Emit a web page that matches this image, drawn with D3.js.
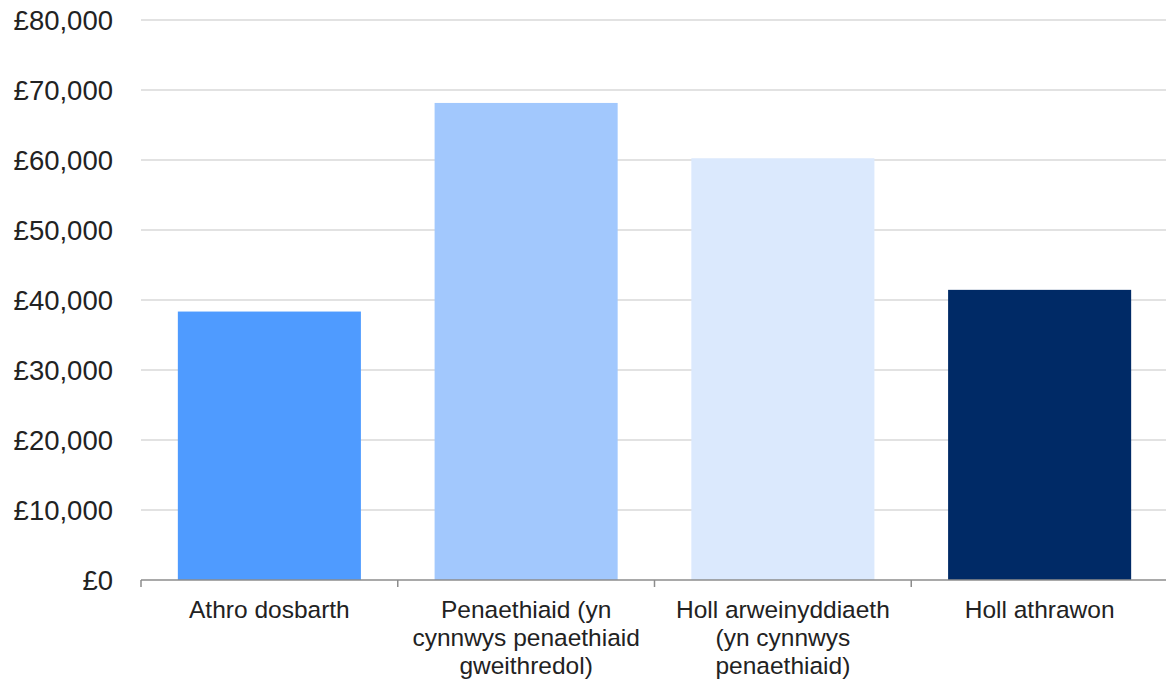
<!DOCTYPE html>
<html>
<head>
<meta charset="utf-8">
<script src="https://cdn.jsdelivr.net/npm/d3@7"></script>
<style>
  body { margin: 0; background: #fff; }
  text { font-family: "Liberation Sans", Arial, sans-serif; fill: #222; }
</style>
</head>
<body>
<script>
const categories = [
  'Athro dosbarth',
  'Penaethiaid (yn cynnwys penaethiaid gweithredol)',
  'Holl arweinyddiaeth (yn cynnwys penaethiaid)',
  'Holl athrawon'
];
const labelLines = [
  ['Athro dosbarth'],
  ['Penaethiaid (yn', 'cynnwys penaethiaid', 'gweithredol)'],
  ['Holl arweinyddiaeth', '(yn cynnwys', 'penaethiaid)'],
  ['Holl athrawon']
];
const salaries = [38350, 68150, 60250, 41450];
const barColors = ['#4f9bff', '#a2c8fd', '#dbe9fd', '#002a66'];
const yTicks = [0, 10000, 20000, 30000, 40000, 50000, 60000, 70000, 80000];

const width = 1166;
const height = 680;
const margin = { left: 141, top: 20, right: -2, bottom: 100 };

const svg = d3.select('body').append('svg')
  .attr('width', width)
  .attr('height', height);

const g = svg.append('g')
  .attr('transform', `translate(${margin.left}, ${margin.top})`);

const innerW = width - margin.left - margin.right;
const innerH = height - margin.top - margin.bottom;

const xScale = d3.scaleBand()
  .domain(categories)
  .range([0, innerW])
  .paddingInner(0.287)
  .paddingOuter(0.1435);

const yScale = d3.scaleLinear()
  .domain([0, 80000])
  .range([innerH, 0]);

// gridlines
g.selectAll('.grid')
  .data(yTicks.filter(d => d > 0))
  .enter()
  .append('line')
  .attr('x1', 0)
  .attr('x2', innerW)
  .attr('y1', d => yScale(d))
  .attr('y2', d => yScale(d))
  .attr('stroke', '#d9d9d9')
  .attr('stroke-width', 1.5);

// y labels
g.selectAll('.ylab')
  .data(yTicks)
  .enter()
  .append('text')
  .attr('x', -28)
  .attr('y', d => yScale(d))
  .attr('dy', '0.36em')
  .attr('text-anchor', 'end')
  .style('font-size', '27.5px')
  .text(d => '£' + d3.format(',')(d));

// bars
g.selectAll('rect')
  .data(salaries)
  .enter()
  .append('rect')
  .attr('x', (d, i) => xScale(categories[i]))
  .attr('width', xScale.bandwidth())
  .attr('y', d => yScale(d))
  .attr('height', d => innerH - yScale(d))
  .attr('fill', (d, i) => barColors[i]);

// x axis line and ticks at category boundaries
const step = xScale.step();
const boundaries = d3.range(categories.length + 1).map(i =>
  xScale(categories[Math.min(i, categories.length - 1)]) - step * 0.1435 + (i === categories.length ? step : 0));

g.append('line')
  .attr('x1', 0)
  .attr('x2', innerW)
  .attr('y1', innerH)
  .attr('y2', innerH)
  .attr('stroke', '#8c8c8c')
  .attr('stroke-width', 1.5);

g.selectAll('.tick')
  .data(boundaries)
  .enter()
  .append('line')
  .attr('x1', d => d)
  .attr('x2', d => d)
  .attr('y1', innerH)
  .attr('y2', innerH + 7)
  .attr('stroke', '#8c8c8c')
  .attr('stroke-width', 1.5);

// category labels
const labels = g.selectAll('.xlab')
  .data(categories)
  .enter()
  .append('text')
  .attr('text-anchor', 'middle')
  .style('font-size', '24.5px')
  .attr('transform', d => `translate(${xScale(d) + xScale.bandwidth() / 2}, ${innerH + 38})`);

labels.selectAll('tspan')
  .data((d, i) => labelLines[i])
  .enter()
  .append('tspan')
  .attr('x', 0)
  .attr('y', (d, i) => i * 28)
  .text(d => d);
</script>
</body>
</html>
